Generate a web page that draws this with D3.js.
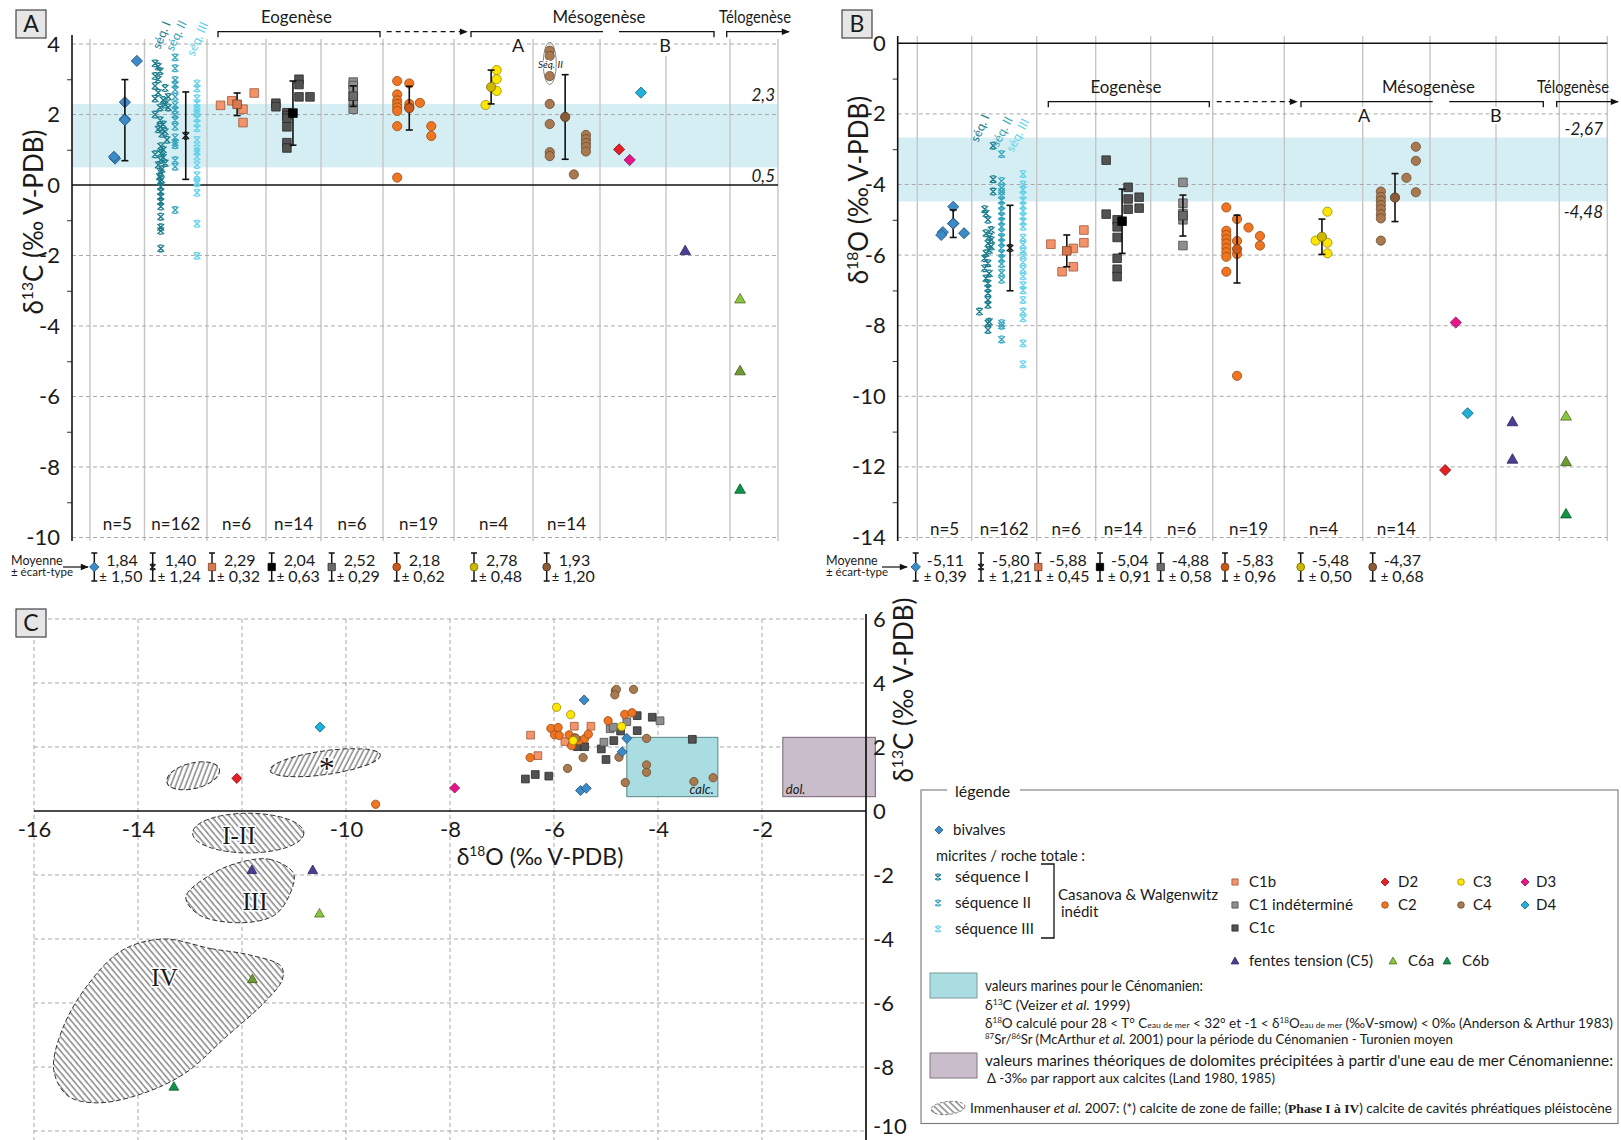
<!DOCTYPE html>
<html><head><meta charset="utf-8">
<script src="https://cdn.jsdelivr.net/npm/d3@7"></script>
<style>body{margin:0;background:#fff}svg{display:block}</style>
</head><body><svg id="c" width="1621" height="1140"></svg>
<script>
// ================= DATA =================
const columns = ["bivalves","micrites","C1b","C1c","C1 indéterminé","C2","C3","C4","D2-D4","C5","C6"];
const nLabels = ["n=5","n=162","n=6","n=14","n=6","n=19","n=4","n=14"];
const ticksA = [-10,-9,-8,-7,-6,-5,-4,-3,-2,-1,0,1,2,3,4];
const ticksB = [-14,-13,-12,-11,-10,-9,-8,-7,-6,-5,-4,-3,-2,-1,0];
const gridA = [4,2,-2,-4,-6,-8,-10];
const gridB = [-2,-4,-6,-8,-10,-12,-14];
const xTicksC = [-16,-14,-12,-10,-8,-6,-4,-2];
const xLabelsC = [-16,-14,-10,-8,-6,-4,-2];   // -12 is hidden by field I-II in the original
const yTicksC = [-10,-8,-6,-4,-2,0,2,4,6];

const bandA = [0.5, 2.3];
const bandB = [-4.48, -2.67];

const meanA = [1.84,1.40,2.29,2.04,2.52,2.18,2.78,1.93];
const sdA   = [1.50,1.24,0.32,0.63,0.29,0.62,0.48,1.20];
const barA  = [1.15,1.24,0.32,0.91,0.29,0.62,0.48,1.20];   // half length of bars as drawn
const meanB = [-5.11,-5.80,-5.88,-5.04,-4.88,-5.83,-5.48,-4.37];
const sdB   = [0.39,1.21,0.45,0.91,0.58,0.96,0.50,0.68];

// ---- Panel A values (d13C) ----
const bivalvesA = [0.75,0.80,1.87,2.35,3.52];
const seqIA = [3.45,3.36,3.23,3.09,3.0,2.81,2.75,2.62,2.5,2.45,2.41,2.28,2.2,2.2,2.0,1.84,1.72,1.65,1.58,1.51,1.45,1.28,1.1,1.0,0.9,0.87,0.78,0.71,0.62,0.57,0.45,0.35,0.24,0.15,0.09,-0.05,-0.19,-0.33,-0.47,-0.61,-0.9,-1.2,-1.3,-1.8];
const seqIIA = [3.62,3.31,2.98,2.85,2.7,2.5,2.27,2.12,2.0,1.84,1.65,1.35,1.2,1.13,0.7,0.52,-0.71];
const seqIIIA = [2.88,2.74,2.46,2.32,2.18,2.1,2.03,1.89,1.75,1.61,1.28,1.04,0.95,0.8,0.57,0.28,0.09,0.05,-0.22,-1.1,-2.01];
const C1bA = [2.26,2.39,2.15,1.77,2.61];
const C1cA = [2.32,2.22,2.05,1.97,1.89,1.65,1.2,1.05,3.0,2.85,2.5,2.5];
const C1indA = [2.92,2.82,2.7,2.5,2.35,2.15];
const C2A = [2.95,2.57,2.4,2.3,2.2,2.1,1.67,0.21,2.88,2.3,2.2,2.33,1.67,1.39];
const C3A = [3.26,3.0,2.67,2.27];
const C4A = [3.81,3.66,3.09,2.3,1.73,0.93,0.82,0.3,1.42,1.3,1.19,1.08,0.95];
const D2A = [1.01], D3A = [0.71], D4A = [2.62];
const C5A = [-1.86];
const C6aA = [-3.23], C6a2A = [-5.27], C6bA = [-8.63];

// ---- Panel B values (d18O) ----
const bivalvesB = [-5.35,-5.43,-4.63,-5.1,-5.38];
const seqIB = [-2.9,-3.85,-4.2,-4.70,-4.82,-5.0,-5.29,-5.38,-5.48,-5.57,-5.67,-5.76,-5.86,-5.95,-6.09,-6.23,-6.37,-6.52,-6.66,-6.8,-6.94,-7.08,-7.27,-7.41,-7.6,-7.89,-7.93,-8.12];
const seqIIB = [-3.14,-3.9,-4.1,-4.2,-4.3,-4.45,-4.6,-4.75,-4.9,-5.05,-5.2,-5.35,-5.5,-5.65,-5.8,-5.95,-6.1,-6.25,-6.5,-6.7,-7.93,-8.0,-8.39];
const seqIIIB = [-3.7,-4.0,-4.15,-4.3,-4.45,-4.6,-4.75,-4.9,-5.05,-5.2,-5.5,-5.7,-5.9,-6.0,-6.2,-6.4,-6.6,-6.85,-7.0,-7.27,-7.6,-7.79,-8.5,-9.09];
const C1bB = [-5.69,-6.47,-5.81,-6.33,-5.29,-5.65];
const C1cB = [-3.31,-4.84,-5.0,-5.2,-5.5,-6.09,-6.4,-6.61,-4.08,-4.41,-4.70,-4.36,-4.67];
const C1indB = [-3.94,-4.53,-4.82,-5.0,-5.73];
const C2B = [-4.65,-5.31,-5.43,-5.55,-5.67,-5.8,-5.92,-6.05,-6.47,-4.98,-5.6,-5.97,-9.42,-5.22,-5.46,-5.73];
const C3B = [-4.77,-5.65,-5.95,-5.59];
const C4B = [-4.2,-4.35,-4.46,-4.58,-4.7,-4.84,-4.96,-5.59,-3.81,-2.93,-3.33,-4.22];
const D2B = [-12.09], D3B = [-7.91], D4B = [-10.48];
const C5B = [-10.72,-11.78];
const C6aB = [-10.56], C6a2B = [-11.85], C6bB = [-13.33];

// ---- Panel C values [d18O, d13C] ----
const bivalvesC = [[-5.42,3.47],[-4.60,2.27],[-4.69,1.85],[-5.49,0.64],[-5.38,0.71]];
const C1bC = [[-6.45,2.37],[-6.31,1.73],[-5.61,2.65],[-5.29,2.65],[-5.79,2.17]];
const C1cC = [[-6.55,1.0],[-6.36,1.14],[-6.10,1.09],[-5.55,2.01],[-5.41,2.01],[-5.09,1.94],[-5.0,1.61],[-4.85,2.2],[-4.72,2.5],[-4.40,2.98],[-4.40,2.51],[-4.11,2.93],[-3.34,2.24]];
const C1indC = [[-5.04,2.15],[-4.92,2.57],[-4.86,2.62],[-4.60,2.79],[-3.96,2.82]];
const C2C = [[-9.43,0.21],[-6.46,1.67],[-6.06,2.58],[-5.92,2.61],[-5.99,2.38],[-5.9,2.36],[-5.71,2.38],[-5.66,2.04],[-5.60,2.29],[-5.52,2.2],[-5.41,2.26],[-5.34,2.4],[-4.96,2.82],[-4.64,3.02],[-4.50,3.07]];
const C3C = [[-5.95,3.24],[-5.68,3.01],[-4.70,2.64],[-5.63,2.2]];
const C4C = [[-4.82,3.76],[-4.80,3.80],[-4.83,3.63],[-4.47,3.80],[-5.58,2.27],[-5.44,1.67],[-5.74,1.33],[-4.75,1.68],[-4.22,2.27],[-4.22,1.44],[-4.22,1.21],[-4.63,0.89],[-3.31,0.92],[-2.94,1.04]];
const D2C = [[-12.10,1.02]], D3C = [[-7.91,0.72]], D4C = [[-10.50,2.62]];
const C5C = [[-11.81,-1.84],[-10.64,-1.84]];
const C6aC = [[-10.51,-3.2]], C6a2C = [[-11.8,-5.25]], C6bC = [[-13.31,-8.61]];
const calcBox = {o:[-4.6,-2.85], c:[0.45,2.3]};
const dolBox  = {o:[-1.6,0.18], c:[0.45,2.3]};
const immenEllipses = [
  {cx:-12.94, cy:1.1, rx:0.52, ry:0.40, rot:-14, h:"f"},
  {cx:-10.40, cy:1.51, rx:1.07, ry:0.37, rot:-8, h:"f"},
  {cx:-11.88, cy:-0.69, rx:1.07, ry:0.62, rot:0, h:"b"}
];
const immenIII = [[-11.01,-1.95],[-11.44,-1.52],[-11.9,-1.55],[-12.54,-1.93],[-13.08,-2.69],[-12.82,-3.25],[-11.99,-3.49],[-11.37,-3.25],[-11.08,-2.6]];
const immenIV = [[-13.51,-4.0],[-12.6,-4.3],[-11.85,-4.5],[-11.25,-4.85],[-11.22,-5.25],[-11.55,-5.95],[-12.3,-7.05],[-13.1,-8.2],[-13.95,-8.85],[-14.8,-9.12],[-15.35,-8.9],[-15.62,-8.1],[-15.45,-6.8],[-14.95,-5.4],[-14.3,-4.35]];

// ================= LAYOUT =================
const FONT = "Lato, 'Open Sans', sans-serif";
const SERIF = "'Liberation Serif', 'DejaVu Serif', serif";
const edgesA = [90,144.5,207,266,321,383,454,533,600,666,730,778];
const edgesB = [917.3,971.7,1036.7,1095.7,1150.7,1212.7,1284.3,1362.7,1430,1496,1559.3,1607.3];
const tableXA = [94.3,152.7,212,271.7,331.7,396.7,474,546.7];
const tableXB = [915.7,981,1038.3,1100,1160.7,1225,1300.7,1372.7];
const meanSlotA = [0.64,0.66,0.51,0.49,0.52,0.37,0.47,0.48];
const meanSlotB = [0.66,0.59,0.51,0.48,0.52,0.34,0.48,0.48];

const STY = {
  biv:{shape:"diamond",fill:"#3d8bc6",stroke:"#1f4e7a"},
  seqI:{shape:"x",stroke:"#1b7d8c"},
  seqII:{shape:"x",stroke:"#3aa6bd"},
  seqIII:{shape:"x",stroke:"#66d2ea"},
  C1b:{shape:"square",fill:"#f4926a",stroke:"#9c5a3c"},
  C1ind:{shape:"square",fill:"#8e8e8e",stroke:"#4d4d4d"},
  C1c:{shape:"square",fill:"#525252",stroke:"#2a2a2a"},
  C2:{shape:"circle",fill:"#f07522",stroke:"#9b4a12"},
  C3:{shape:"circle",fill:"#ffe600",stroke:"#9a8a00"},
  C4:{shape:"circle",fill:"#a97a50",stroke:"#6b4a2c"},
  D2:{shape:"diamond",fill:"#e41f26",stroke:"#8a1015"},
  D3:{shape:"diamond",fill:"#e6168a",stroke:"#8a0d52"},
  D4:{shape:"diamond",fill:"#1fb1da",stroke:"#10627a"},
  C5:{shape:"triangle",fill:"#4b3f91",stroke:"#2a2360"},
  C6a:{shape:"triangle",fill:"#8cc63f",stroke:"#4d7020"},
  C6a2:{shape:"triangle",fill:"#6f9a34",stroke:"#3f5c1a"},
  C6b:{shape:"triangle",fill:"#0f9448",stroke:"#075a2a"}
};
const MEANSTY = [
  {shape:"diamond",fill:"#3d8bc6",stroke:"#1f4e7a"},
  {shape:"x",stroke:"#111"},
  {shape:"square",fill:"#d9784e",stroke:"#7a4026"},
  {shape:"square",fill:"#000",stroke:"#000"},
  {shape:"square",fill:"#6a6a6a",stroke:"#333"},
  {shape:"circle",fill:"#c9581b",stroke:"#7a3a10"},
  {shape:"circle",fill:"#cdb800",stroke:"#7a6a00"},
  {shape:"circle",fill:"#8a5b37",stroke:"#4a3018"}
];

const seriesA = [
  ["biv",0,bivalvesA,[0.46,0.44,0.64,0.64,0.86]],
  ["seqI",1,seqIA,[0.17,0.22,0.25,0.17,0.22,0.17,0.33,0.22,0.38,0.17,0.3,0.33,0.25,0.38,0.17,0.25,0.3,0.25,0.22,0.33,0.28,0.36,0.26,0.3,0.26,0.17,0.3,0.26,0.33,0.22,0.28,0.26,0.24,0.27,0.25,0.26,0.26,0.26,0.26,0.26,0.26,0.26,0.26,0.26]],
  ["seqII",1,seqIIA,0.49],
  ["seqIII",1,seqIIIA,0.84],
  ["C1b",2,C1bA,[0.23,0.42,0.61,0.61,0.8]],
  ["C1c",3,C1cA,[0.18,0.18,0.38,0.38,0.38,0.38,0.38,0.38,0.6,0.6,0.6,0.8]],
  ["C1ind",4,C1indA,0.52],
  ["C2",5,C2A,[0.2,0.2,0.2,0.2,0.2,0.2,0.2,0.2,0.37,0.37,0.37,0.52,0.68,0.68]],
  ["C3",6,C3A,[0.54,0.54,0.54,0.4]],
  ["C4",7,C4A,[0.25,0.25,0.25,0.25,0.25,0.25,0.25,0.61,0.79,0.79,0.79,0.79,0.79]],
  ["D2",8,D2A,0.29],["D3",8,D3A,0.45],["D4",8,D4A,0.62],
  ["C5",9,C5A,0.3],
  ["C6a",10,C6aA,0.21],["C6a2",10,C6a2A,0.21],["C6b",10,C6bA,0.21]
];
const seriesB = [
  ["biv",0,bivalvesB,[0.47,0.44,0.66,0.66,0.86]],
  ["seqI",1,seqIB,[0.33,0.33,0.33,0.2,0.22,0.25,0.3,0.22,0.27,0.3,0.25,0.3,0.27,0.22,0.2,0.25,0.2,0.27,0.22,0.25,0.25,0.25,0.25,0.25,0.12,0.27,0.25,0.25]],
  ["seqII",1,seqIIB,0.46],
  ["seqIII",1,seqIIIB,0.79],
  ["C1b",2,C1bB,[0.24,0.43,0.62,0.62,0.8,0.8]],
  ["C1c",3,C1cB,[0.19,0.19,0.39,0.39,0.39,0.39,0.39,0.39,0.59,0.59,0.59,0.79,0.79]],
  ["C1ind",4,C1indB,0.52],
  ["C2",5,C2B,[0.19,0.19,0.19,0.19,0.19,0.19,0.19,0.19,0.19,0.34,0.34,0.34,0.34,0.5,0.66,0.66]],
  ["C3",6,C3B,[0.55,0.55,0.55,0.4]],
  ["C4",7,C4B,[0.27,0.27,0.27,0.27,0.27,0.27,0.27,0.27,0.65,0.79,0.79,0.79]],
  ["D2",8,D2B,0.23],["D3",8,D3B,0.39],["D4",8,D4B,0.57],
  ["C5",9,C5B,0.26],
  ["C6a",10,C6aB,0.14],["C6a2",10,C6a2B,0.14],["C6b",10,C6bB,0.14]
];
const seriesC = [
  ["C1c",C1cC],["C1ind",C1indC],["C1b",C1bC],["C2",C2C],["C4",C4C],["C3",C3C],["biv",bivalvesC],
  ["D2",D2C],["D3",D3C],["D4",D4C],["C5",C5C],["C6a",C6aC],["C6a2",C6a2C],["C6b",C6bC]
];

// ================= HELPERS =================
const svg = d3.select("#c");
svg.append("rect").attr("width",1621).attr("height",1140).attr("fill","#fff");
const defs = svg.append("defs");
function hatch(id, angle){
  const p = defs.append("pattern").attr("id",id).attr("patternUnits","userSpaceOnUse")
    .attr("width",4.6).attr("height",4.6).attr("patternTransform",`rotate(${angle})`);
  p.append("rect").attr("width",4.6).attr("height",4.6).attr("fill","#fff");
  p.append("line").attr("x1",1).attr("x2",1).attr("y1",-1).attr("y2",6).attr("stroke","#2b2b2b").attr("stroke-width",0.85);
}
hatch("hb",-40); hatch("hf",35);
defs.append("marker").attr("id","arr").attr("viewBox","0 0 10 10").attr("refX",9).attr("refY",5)
  .attr("markerUnits","userSpaceOnUse").attr("markerWidth",10).attr("markerHeight",8).attr("orient","auto")
  .append("path").attr("d","M0,1L10,5L0,9Z").attr("fill","#111");

function shapePath(shape,k){
  k = k||1;
  if(shape==="diamond"){const a=5.6*k;return `M0,${-a}L${a},0L0,${a}L${-a},0Z`;}
  if(shape==="square"){const a=4.3*k;return `M${-a},${-a}H${a}V${a}H${-a}Z`;}
  if(shape==="circle"){const r=4.6*k;return `M${r},0A${r},${r} 0 1,1 ${-r},0A${r},${r} 0 1,1 ${r},0Z`;}
  if(shape==="triangle"){const a=5.4*k;return `M0,${-a}L${a},${a*0.75}L${-a},${a*0.75}Z`;}
  const a=3.3*k; return `M${-a},${-a}L${a},${a}M${a},${-a}L${-a},${a}M${-a*0.55},${-a}H${a*0.55}M${-a*0.55},${a}H${a*0.55}`;
}
function styleMarker(sel, st){
  if(st.shape==="x") sel.attr("fill","none").attr("stroke",st.stroke).attr("stroke-width",1.35);
  else sel.attr("fill",st.fill).attr("stroke",st.stroke).attr("stroke-width",0.8);
}
function txt(g,x,y,s,o){
  o=o||{}; const base=o.size||16;
  const t=g.append("text").attr("x",x).attr("y",y).attr("font-family",o.family||FONT).attr("font-size",base)
    .attr("fill",o.fill||"#1a1a1a").attr("text-anchor",o.anchor||"start");
  if(o.italic) t.attr("font-style","italic");
  if(o.len) t.attr("textLength",o.len).attr("lengthAdjust","spacingAndGlyphs");
  if(o.halo) t.attr("stroke","#fff").attr("stroke-width",o.halo).attr("paint-order","stroke");
  if(o.rot!==undefined) t.attr("x",0).attr("y",0).attr("transform",`translate(${x},${y}) rotate(${o.rot})`);
  if(Array.isArray(s)){
    let shift=0;
    s.forEach(p=>{
      const ts=t.append("tspan").text(p.t);
      const target=p.sup?-base*0.4:(p.sub?base*0.18:0);
      if(target!==shift){ts.attr("dy",target-shift);shift=target;}
      if(p.sup||p.sub) ts.attr("font-size",base*0.6);
      if(p.size) ts.attr("font-size",p.size);
      if(p.italic) ts.attr("font-style","italic");
      if(p.bold) ts.attr("font-weight","bold");
      if(p.family) ts.attr("font-family",p.family);
    });
  } else t.text(s);
  return t;
}
const fmt = v => d3.format(".2f")(v).replace(".",",").replace("\u2212","-");
function line(g,x1,y1,x2,y2,st,w,dash){
  const l=g.append("line").attr("x1",x1).attr("y1",y1).attr("x2",x2).attr("y2",y2).attr("stroke",st||"#111").attr("stroke-width",w||1.3);
  if(dash) l.attr("stroke-dasharray",dash); return l;
}
function tagBox(x,y,w,h,label){
  svg.append("rect").attr("x",x).attr("y",y).attr("width",w).attr("height",h).attr("fill","#e6e6e6").attr("stroke","#444").attr("stroke-width",1.2);
  txt(svg,x+w/2,y+h/2+8,label,{size:23,anchor:"middle"});
}

// ================= PANELS A & B =================
function panel(o){
  const g=svg.append("g");
  const x=d3.scaleLinear().domain(d3.range(o.edges.length)).range(o.edges);
  const y=o.y;
  g.append("rect").attr("x",o.axisX).attr("width",o.right-o.axisX).attr("y",y(o.band[1]))
    .attr("height",y(o.band[0])-y(o.band[1])).attr("fill","#d5eef3");
  o.edges.forEach((e,i)=>line(g,e,(o.vTopAt&&o.vTopAt[i])||o.vTop,e,541,"#c6c6c6",1.4));
  o.grid.forEach(v=>line(g,o.axisX,y(v),o.right,y(v),"#a9a9a9",1,"4,3"));
  line(g,o.axisX,y(0),o.right,y(0),"#111",1.6);
  const ax=d3.axisLeft(y).tickValues(o.ticks).tickSize(5).tickPadding(7).tickFormat(d=>d%2===0?String(d):"");
  const axg=g.append("g").attr("transform",`translate(${o.axisX},0)`).call(ax);
  axg.select(".domain").remove();
  axg.selectAll(".tick").filter(d=>d%2===0).select("line").remove();
  axg.attr("font-size",22).attr("font-family",FONT);
  axg.selectAll("text").attr("fill","#1a1a1a");
  axg.selectAll(".tick line").attr("stroke","#333");
  line(g,o.axisX,o.axisTop,o.axisX,541,"#111",1.6);
  txt(g,o.ylab[0],o.ylab[1],[{t:"δ"},{t:o.iso,sup:true},{t:o.el+" (‰ V-PDB)"}],{size:26,anchor:"middle",rot:-90});
  o.series.forEach(([key,col,vals,slots])=>{
    const st=STY[key];
    g.append("g").selectAll("path").data(vals.map((v,i)=>({v,s:Array.isArray(slots)?slots[i]:slots}))).join("path")
      .attr("d",shapePath(st.shape,1)).attr("transform",d=>`translate(${x(col+d.s)},${y(d.v)})`).call(styleMarker,st);
  });
  const eb=g.append("g").selectAll("g").data(o.mean.map((m,i)=>({m,h:o.bar[i],i}))).join("g")
    .attr("transform",d=>`translate(${x(d.i+o.meanSlot[d.i])},0)`);
  eb.append("line").attr("y1",d=>y(d.m+d.h)).attr("y2",d=>y(d.m-d.h)).attr("stroke","#111").attr("stroke-width",1.6);
  eb.append("line").attr("x1",-3.5).attr("x2",3.5).attr("y1",d=>y(d.m+d.h)).attr("y2",d=>y(d.m+d.h)).attr("stroke","#111").attr("stroke-width",1.6);
  eb.append("line").attr("x1",-3.5).attr("x2",3.5).attr("y1",d=>y(d.m-d.h)).attr("y2",d=>y(d.m-d.h)).attr("stroke","#111").attr("stroke-width",1.6);
  eb.append("path").attr("d",d=>shapePath(MEANSTY[d.i].shape,1)).attr("transform",d=>`translate(0,${y(d.m)})`)
    .each(function(d){styleMarker(d3.select(this),MEANSTY[d.i]);});
  nLabels.forEach((n,i)=>txt(g,(o.edges[i]+o.edges[i+1])/2,o.nY,n,{size:17,anchor:"middle"}));
  o.mean.forEach((m,i)=>{
    const tx=o.tableX[i];
    line(g,tx,553,tx,581,"#111",1.5); line(g,tx-3,553,tx+3,553,"#111",1.5); line(g,tx-3,581,tx+3,581,"#111",1.5);
    const p=g.append("path").attr("d",shapePath(MEANSTY[i].shape,0.85)).attr("transform",`translate(${tx},567)`);
    styleMarker(p,MEANSTY[i]);
    txt(g,tx+o.topDx,566,fmt(m),{size:16});
    txt(g,tx+o.botDx,582,[{t:"±",size:13},{t:" "+fmt(o.sd[i]).replace("-","")}],{size:16});
  });
  txt(g,o.moy[0],o.moy[1],"Moyenne",{size:12.5});
  txt(g,o.moy[0],o.moy[1]+11,"± écart-type",{size:11.5});
  g.append("line").attr("x1",o.moy[2]).attr("x2",o.moy[3]).attr("y1",o.moy[1]+2).attr("y2",o.moy[1]+2)
    .attr("stroke","#111").attr("stroke-width",1.2).attr("marker-end","url(#arr)");
  return {g,x,y};
}
function bracket(g,x1,x2,y,tl,tr){
  let d=`M${x1},${y}H${x2}`;
  if(tl) d=`M${x1},${y+5.5}V${y}H${x2}`;
  if(tr) d+=`V${y+5.5}`;
  g.append("path").attr("d",d).attr("fill","none").attr("stroke","#111").attr("stroke-width",1.3);
}
function headers(g,h){
  txt(g,h.eo,h.ty,"Eogenèse",{size:17,anchor:"middle",len:71});
  bracket(g,h.eoB[0],h.eoB[1],h.by,true,true);
  g.append("line").attr("x1",h.dash[0]).attr("x2",h.dash[1]).attr("y1",h.by).attr("y2",h.by).attr("stroke","#111")
    .attr("stroke-width",1.3).attr("stroke-dasharray","5,4").attr("marker-end","url(#arr)");
  txt(g,h.me,h.ty,"Mésogenèse",{size:17,anchor:"middle",len:93});
  bracket(g,h.meB[0],h.meB[1],h.by,true,false);
  bracket(g,h.meB[2],h.meB[3],h.by,false,true);
  txt(g,h.te,h.ty,"Télogenèse",{size:17,anchor:"middle",len:72});
  g.append("path").attr("d",`M${h.teB[0]},${h.by+5.5}V${h.by}H${h.teB[1]}`).attr("fill","none").attr("stroke","#111")
    .attr("stroke-width",1.3).attr("marker-end","url(#arr)");
  txt(g,h.A,h.aby,"A",{size:18,anchor:"middle",halo:4});
  txt(g,h.B,h.aby,"B",{size:18,anchor:"middle",halo:4});
}

// Panel A
const yA=d3.scaleLinear().domain([4,-10]).range([44,537.5]);
const PA=panel({edges:edgesA,y:yA,axisX:72,right:778,axisTop:35,vTop:39,vTopAt:{9:56},band:bandA,grid:gridA,ticks:ticksA,
  ylab:[43,222],iso:"13",el:"C",series:seriesA,mean:meanA,bar:barA,sd:sdA,meanSlot:meanSlotA,nY:530,tableX:tableXA,
  topDx:12,botDx:5,moy:[11,565,63,88]});
headers(PA.g,{ty:23,by:31.7,eo:296.5,eoB:[218,380],dash:[386.7,467],me:599,meB:[471,603,619,714],te:755,teB:[726.7,789],A:518,B:665,aby:52});
txt(PA.g,775,101,"2,3",{size:17,anchor:"end",italic:true});
txt(PA.g,775,182,"0,5",{size:17,anchor:"end",italic:true});
PA.g.append("ellipse").attr("cx",PA.x(7.25)).attr("cy",yA(3.45)).attr("rx",6.5).attr("ry",21).attr("fill","none").attr("stroke","#777").attr("stroke-width",0.9);
txt(PA.g,PA.x(7.26),yA(3.33),"Séq. II",{size:10,anchor:"middle",italic:true,halo:2});
txt(PA.g,160,50,"séq. I",{size:12.5,rot:-68,fill:"#1b7d8c"});
txt(PA.g,173,52,"séq. II",{size:12.5,rot:-64,fill:"#3aa6bd"});
txt(PA.g,194,57,"séq. III",{size:12.5,rot:-66,fill:"#66d2ea"});
tagBox(16,10,30,28,"A");

// Panel B
const yB=d3.scaleLinear().domain([0,-14]).range([43.3,537.5]);
const PB=panel({edges:edgesB,y:yB,axisX:897.7,right:1607.3,axisTop:36,vTop:36,band:bandB,grid:gridB,ticks:ticksB,
  ylab:[868,190],iso:"18",el:"O",series:seriesB,mean:meanB,bar:sdB,sd:sdB,meanSlot:meanSlotB,nY:535,tableX:tableXB,
  topDx:11,botDx:8,moy:[826,565,882,907]});
headers(PB.g,{ty:93,by:101.7,eo:1126,eoB:[1048.3,1209.3],dash:[1216.7,1297],me:1428.5,meB:[1301,1432.7,1449.3,1543.3],te:1573,teB:[1556.7,1618],A:1364,B:1495.7,aby:122});
txt(PB.g,1603,134.5,"-2,67",{size:17,anchor:"end",italic:true});
txt(PB.g,1603,218,"-4,48",{size:17,anchor:"end",italic:true});
txt(PB.g,978,143,"séq. I",{size:12.5,rot:-66,fill:"#1b7d8c"});
txt(PB.g,998,148,"séq. II",{size:12.5,rot:-62,fill:"#3aa6bd"});
txt(PB.g,1013,153,"séq. III",{size:12.5,rot:-62,fill:"#66d2ea"});
tagBox(842,10,30,28,"B");

// ================= PANEL C =================
const xC=d3.scaleLinear().domain([-16,0]).range([34,866]);
const yC=d3.scaleLinear().domain([6,-10]).range([619,1131]);
const gC=svg.append("g");
xTicksC.forEach(v=>line(gC,xC(v),yC(6),xC(v),1140,"#a9a9a9",1,"4,3"));
yTicksC.filter(v=>v!==0).forEach(v=>line(gC,xC(-16),yC(v),xC(0),yC(v),"#a9a9a9",1,"4,3"));
[[calcBox,"#a9dde2","#6f9696","calc.",1],[dolBox,"#c9bccb","#857585","dol.",0]].forEach(([b,f,s,lab,right])=>{
  gC.append("rect").attr("x",xC(b.o[0])).attr("y",yC(b.c[1])).attr("width",xC(b.o[1])-xC(b.o[0]))
    .attr("height",yC(b.c[0])-yC(b.c[1])).attr("fill",f).attr("stroke",s).attr("stroke-width",1.2);
  if(right) txt(gC,xC(b.o[1])-4,yC(b.c[0])-3,lab,{size:13,italic:true,anchor:"end"});
  else txt(gC,xC(b.o[0])+3,yC(b.c[0])-3,lab,{size:13,italic:true});
});
const axX=d3.axisBottom(xC).tickValues(xLabelsC).tickSize(0).tickPadding(10).tickFormat(d=>String(d));
const axXg=gC.append("g").attr("transform",`translate(0,${yC(0)})`).call(axX);
axXg.select(".domain").remove(); axXg.attr("font-size",22).attr("font-family",FONT); axXg.selectAll("text").attr("fill","#1a1a1a");
const axY=d3.axisRight(yC).tickValues(yTicksC).tickSize(0).tickPadding(7).tickFormat(d=>String(d));
const axYg=gC.append("g").attr("transform",`translate(${xC(0)},0)`).call(axY);
axYg.select(".domain").remove(); axYg.attr("font-size",22).attr("font-family",FONT); axYg.selectAll("text").attr("fill","#1a1a1a");
axYg.selectAll(".tick").filter(d=>d===-10).select("text").attr("dy","0.1em");
line(gC,xC(-16),yC(0),xC(0),yC(0),"#111",1.7);
line(gC,xC(0),614,xC(0),1140,"#111",1.7);
immenEllipses.forEach(e=>{
  const cx=xC(e.cx), cy=yC(e.cy);
  gC.append("ellipse").attr("cx",0).attr("cy",0).attr("rx",xC(e.cx+e.rx)-cx).attr("ry",yC(e.cy-e.ry)-cy)
    .attr("transform",`translate(${cx},${cy}) rotate(${e.rot})`)
    .attr("fill",`url(#${e.h==="f"?"hf":"hb"})`).attr("stroke","#333").attr("stroke-width",1).attr("stroke-dasharray","5,2.5");
});
const blob=d3.line().x(d=>xC(d[0])).y(d=>yC(d[1])).curve(d3.curveCatmullRomClosed.alpha(0.5));
[immenIII,immenIV].forEach(poly=>{
  gC.append("path").attr("d",blob(poly)).attr("fill","url(#hb)").attr("stroke","#333").attr("stroke-width",1).attr("stroke-dasharray","5,2.5");
});
txt(gC,xC(-12.06),yC(-0.75)+9,"I-II",{family:SERIF,size:25,anchor:"middle",halo:3});
txt(gC,xC(-11.75),yC(-2.8)+9,"III",{family:SERIF,size:25,anchor:"middle",halo:3});
txt(gC,xC(-13.49),yC(-5.2)+9,"IV",{family:SERIF,size:25,anchor:"middle",halo:3});
txt(gC,xC(-10.37),yC(1.45)+14,"*",{family:SERIF,size:32,anchor:"middle",halo:3});
seriesC.forEach(([key,pts])=>{
  const st=STY[key];
  gC.append("g").selectAll("path").data(pts).join("path").attr("d",shapePath(st.shape,0.9))
    .attr("transform",d=>`translate(${xC(d[0])},${yC(d[1])})`).call(styleMarker,st);
});
txt(gC,540,865,[{t:"δ"},{t:"18",sup:true},{t:"O (‰ V-PDB)"}],{size:23,anchor:"middle"});
txt(gC,913,690,[{t:"δ"},{t:"13",sup:true},{t:"C (‰ V-PDB)"}],{size:26,anchor:"middle",rot:-90});
tagBox(16,609,30,28,"C");

// ================= LEGEND =================
const gL=svg.append("g");
gL.append("rect").attr("x",921).attr("y",790).attr("width",697).attr("height",333.5).attr("fill","none").attr("stroke","#777").attr("stroke-width",1.1);
gL.append("rect").attr("x",947).attr("y",784).attr("width",73).attr("height",12).attr("fill","#fff");
txt(gL,955,797,"légende",{size:16});
function lmark(key,x,y,k){const st=STY[key];const p=gL.append("path").attr("d",shapePath(st.shape,k||0.72)).attr("transform",`translate(${x},${y})`);styleMarker(p,st);}
lmark("biv",939,830); txt(gL,953,835,"bivalves",{size:15});
txt(gL,936,861,"micrites / roche totale :",{size:15,len:149});
lmark("seqI",938,877,0.85); txt(gL,955,882,"séquence I",{size:15,len:74});
lmark("seqII",938,903,0.85); txt(gL,955,908,"séquence II",{size:15,len:76});
lmark("seqIII",938,929,0.85); txt(gL,955,934,"séquence III",{size:15,len:79});
gL.append("path").attr("d","M1041,864H1054V938H1041").attr("fill","none").attr("stroke","#111").attr("stroke-width",1.3);
txt(gL,1058,900,"Casanova & Walgenwitz",{size:15,len:160});
txt(gL,1061,917,"inédit",{size:15});
lmark("C1b",1235,882); txt(gL,1249,887,"C1b",{size:15});
lmark("C1ind",1235,905); txt(gL,1249,910,"C1 indéterminé",{size:15,len:104});
lmark("C1c",1235,928); txt(gL,1249,933,"C1c",{size:15});
lmark("D2",1385,882); txt(gL,1398,887,"D2",{size:15});
lmark("C2",1385,905); txt(gL,1398,910,"C2",{size:15});
lmark("C3",1461,882); txt(gL,1473,887,"C3",{size:15});
lmark("C4",1461,905); txt(gL,1473,910,"C4",{size:15});
lmark("D3",1525,882); txt(gL,1536,887,"D3",{size:15});
lmark("D4",1525,905); txt(gL,1536,910,"D4",{size:15});
lmark("C5",1235,961); txt(gL,1249,966,"fentes tension (C5)",{size:15,len:124});
lmark("C6a",1393,961); txt(gL,1408,966,"C6a",{size:15});
lmark("C6b",1447,961); txt(gL,1462,966,"C6b",{size:15});
gL.append("rect").attr("x",930).attr("y",973).attr("width",47).attr("height",25).attr("fill","#a9dde2").attr("stroke","#7a9a9a");
txt(gL,985,991,"valeurs marines pour le Cénomanien:",{size:15,len:218});
txt(gL,985,1010,[{t:"δ"},{t:"13",sup:true},{t:"C (Veizer "},{t:"et al.",italic:true},{t:" 1999)"}],{size:12.5,len:145});
txt(gL,985,1028,[{t:"δ"},{t:"18",sup:true},{t:"O calculé pour 28 < T° C"},{t:"eau de mer",size:8},{t:" < 32°  et  -1 < δ"},{t:"18",sup:true},{t:"O"},{t:"eau de mer",size:8},{t:"  (‰V-smow) < 0‰  (Anderson & Arthur 1983)"}],{size:12.5,len:628});
txt(gL,985,1044,[{t:"87",sup:true},{t:"Sr/"},{t:"86",sup:true},{t:"Sr  (McArthur "},{t:"et al.",italic:true},{t:" 2001) pour la période du Cénomanien - Turonien moyen"}],{size:12.5,len:468});
gL.append("rect").attr("x",930).attr("y",1053).attr("width",47).attr("height",25).attr("fill","#c9bccb").attr("stroke","#857585");
txt(gL,985,1066,"valeurs marines théoriques de dolomites précipitées à partir d'une eau de mer Cénomanienne:",{size:15,len:628});
txt(gL,987,1083,"Δ -3‰ par rapport aux calcites (Land 1980, 1985)",{size:12.5,len:288});
gL.append("ellipse").attr("cx",948).attr("cy",1108).attr("rx",17).attr("ry",6.5).attr("transform","rotate(-6,948,1108)")
  .attr("fill","url(#hb)").attr("stroke","#666").attr("stroke-width",0.8).attr("stroke-dasharray","3,2");
txt(gL,970,1113,[{t:"Immenhauser "},{t:"et al.",italic:true},{t:" 2007: (*) calcite de zone de faille; ("},{t:"Phase I à IV",bold:true,family:SERIF},{t:") calcite de cavités phréatiques pléistocène"}],{size:12.5,len:642});
</script></body></html>
